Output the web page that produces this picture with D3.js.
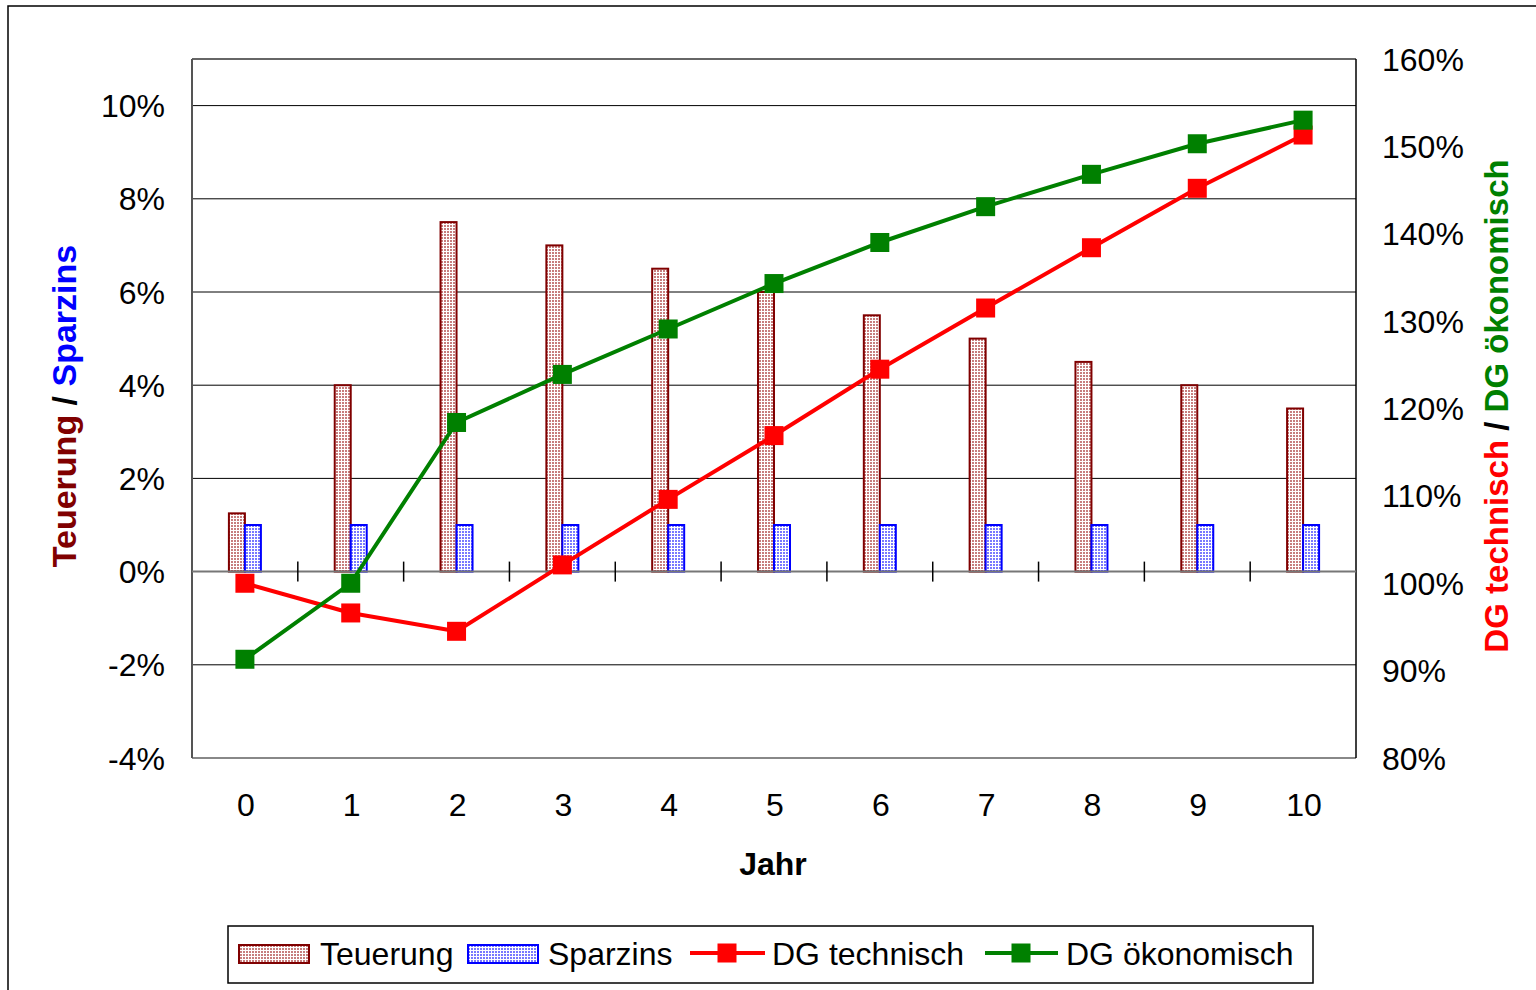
<!DOCTYPE html>
<html><head><meta charset="utf-8">
<script src="https://cdn.jsdelivr.net/npm/d3@7"></script>
<style>html,body{margin:0;padding:0;background:#fff;}svg{display:block;font-family:Arial,"Liberation Sans",sans-serif;}</style>
</head><body>
<svg id="c" width="1536" height="990"></svg>
<script>
const years = [0,1,2,3,4,5,6,7,8,9,10];
const teuerung = [1.25,4,7.5,7,6.5,6,5.5,5,4.5,4,3.5];
const sparzins = [1,1,1,1,1,1,1,1,1,1,1];
const dgTechnisch = [100,96.6,94.5,102.1,109.6,116.9,124.5,131.5,138.4,145.2,151.3];
const dgOekonomisch = [91.3,100,118.4,123.9,129.1,134.3,139.0,143.1,146.8,150.3,153.0];
const leftTicks = [-4,-2,0,2,4,6,8,10];
const rightTicks = [80,90,100,110,120,130,140,150,160];

const svg = d3.select("#c");
const L=192,R=1356,T=59,B=758;
const x = d3.scaleBand().domain(years).range([L,R]).padding(0);
const yL = d3.scaleLinear().domain([-4,11]).range([B,T]);
const yR = d3.scaleLinear().domain([80,160]).range([B,T]);

const defs = svg.append("defs");
function pat(id,col){
  const p = defs.append("pattern").attr("id",id).attr("patternUnits","userSpaceOnUse").attr("width",3).attr("height",3);
  p.append("rect").attr("width",3).attr("height",3).attr("fill","#fff");
  p.append("rect").attr("x",0).attr("y",0).attr("width",2).attr("height",2).attr("fill",col).attr("opacity",0.7);
}
pat("pT","#b04848");
pat("pS","#4040ff");

// outer frame
svg.append("rect").attr("x",8).attr("y",6).attr("width",1540).attr("height",1000).attr("fill","none").attr("stroke","#000").attr("stroke-width",1.5);

// gridlines
svg.append("g").selectAll("line").data(leftTicks.filter(d=>d!==0 && d!==-4)).join("line")
  .attr("x1",L).attr("x2",R).attr("y1",d=>yL(d)).attr("y2",d=>yL(d)).attr("stroke","#000").attr("stroke-width",1);

// plot border
svg.append("line").attr("x1",L).attr("x2",R).attr("y1",T).attr("y2",T).attr("stroke","#666").attr("stroke-width",2);
svg.append("line").attr("x1",L).attr("x2",R).attr("y1",B).attr("y2",B).attr("stroke","#888").attr("stroke-width",2);
svg.append("line").attr("x1",L).attr("x2",L).attr("y1",T).attr("y2",B).attr("stroke","#555").attr("stroke-width",2);
svg.append("line").attr("x1",R).attr("x2",R).attr("y1",T).attr("y2",B).attr("stroke","#000").attr("stroke-width",1.5);

// bars
const bw = 16;
svg.append("g").selectAll("rect").data(years).join("rect")
  .attr("x",d=>x(d)+x.bandwidth()/2-bw).attr("width",bw)
  .attr("y",(d,i)=>yL(teuerung[i])).attr("height",(d,i)=>yL(0)-yL(teuerung[i]))
  .attr("fill","url(#pT)").attr("stroke","#800000").attr("stroke-width",2);
svg.append("g").selectAll("rect").data(years).join("rect")
  .attr("x",d=>x(d)+x.bandwidth()/2).attr("width",bw)
  .attr("y",(d,i)=>yL(sparzins[i])).attr("height",(d,i)=>yL(0)-yL(sparzins[i]))
  .attr("fill","url(#pS)").attr("stroke","#0000ff").attr("stroke-width",2);

// zero axis
svg.append("line").attr("x1",L).attr("x2",R).attr("y1",yL(0)).attr("y2",yL(0)).attr("stroke","#777").attr("stroke-width",2);
svg.append("g").selectAll("line").data(years.slice(1)).join("line")
  .attr("x1",d=>x(d)).attr("x2",d=>x(d)).attr("y1",yL(0)-10).attr("y2",yL(0)+10).attr("stroke","#000").attr("stroke-width",1.5);

// lines
const ms = 19;
function series(vals,col){
  const line = d3.line().x((d,i)=>x(years[i])+x.bandwidth()/2).y(d=>yR(d));
  svg.append("path").datum(vals).attr("d",line).attr("fill","none").attr("stroke",col).attr("stroke-width",4).attr("stroke-linejoin","round");
  svg.append("g").selectAll("rect").data(vals).join("rect")
    .attr("x",(d,i)=>x(years[i])+x.bandwidth()/2-ms/2).attr("y",d=>yR(d)-ms/2).attr("width",ms).attr("height",ms).attr("fill",col);
}
series(dgTechnisch,"#ff0000");
series(dgOekonomisch,"#008000");

const fs = 32;
// left tick labels
svg.append("g").selectAll("text").data(leftTicks).join("text")
  .attr("x",165).attr("y",d=>yL(d)).attr("dy","0.36em").attr("text-anchor","end").attr("font-size",fs)
  .text(d=>d+"%");
// right tick labels
svg.append("g").selectAll("text").data(rightTicks).join("text")
  .attr("x",1382).attr("y",d=>yR(d)).attr("dy","0.36em").attr("text-anchor","start").attr("font-size",fs)
  .text(d=>d+"%");
// x labels
svg.append("g").selectAll("text").data(years).join("text")
  .attr("x",d=>x(d)+x.bandwidth()/2+1).attr("y",816).attr("text-anchor","middle").attr("font-size",fs)
  .text(d=>d);

// axis titles
svg.append("text").attr("x",773).attr("y",875).attr("text-anchor","middle").attr("font-size",32).attr("font-weight","bold").text("Jahr");
const lt = svg.append("text").attr("transform","translate(76,406) rotate(-90)").attr("text-anchor","middle").attr("font-size",34).attr("font-weight","bold");
lt.append("tspan").attr("fill","#800000").text("Teuerung");
lt.append("tspan").attr("fill","#000").text(" / ");
lt.append("tspan").attr("fill","#0000ff").text("Sparzins");
const rt = svg.append("text").attr("transform","translate(1508,406) rotate(-90)").attr("text-anchor","middle").attr("font-size",33).attr("font-weight","bold");
rt.append("tspan").attr("fill","#ff0000").text("DG technisch");
rt.append("tspan").attr("fill","#000").text(" / ");
rt.append("tspan").attr("fill","#008000").text("DG ökonomisch");

// legend
const lg = svg.append("g");
lg.append("rect").attr("x",228).attr("y",926).attr("width",1085).attr("height",57).attr("fill","#fff").attr("stroke","#000").attr("stroke-width",1.5);
const ly = 953;
lg.append("rect").attr("x",239).attr("y",945).attr("width",70).attr("height",18).attr("fill","url(#pT)").attr("stroke","#800000").attr("stroke-width",2);
lg.append("text").attr("x",320).attr("y",ly).attr("dy","0.36em").attr("font-size",fs).text("Teuerung");
lg.append("rect").attr("x",468).attr("y",945).attr("width",70).attr("height",18).attr("fill","url(#pS)").attr("stroke","#0000ff").attr("stroke-width",2);
lg.append("text").attr("x",548).attr("y",ly).attr("dy","0.36em").attr("font-size",fs).text("Sparzins");
lg.append("line").attr("x1",690).attr("x2",765).attr("y1",ly).attr("y2",ly).attr("stroke","#ff0000").attr("stroke-width",4);
lg.append("rect").attr("x",727-ms/2).attr("y",ly-ms/2).attr("width",ms).attr("height",ms).attr("fill","#ff0000");
lg.append("text").attr("x",772).attr("y",ly).attr("dy","0.36em").attr("font-size",fs).text("DG technisch");
lg.append("line").attr("x1",985).attr("x2",1058).attr("y1",ly).attr("y2",ly).attr("stroke","#008000").attr("stroke-width",4);
lg.append("rect").attr("x",1021-ms/2).attr("y",ly-ms/2).attr("width",ms).attr("height",ms).attr("fill","#008000");
lg.append("text").attr("x",1066).attr("y",ly).attr("dy","0.36em").attr("font-size",fs).text("DG ökonomisch");
</script>
</body></html>
